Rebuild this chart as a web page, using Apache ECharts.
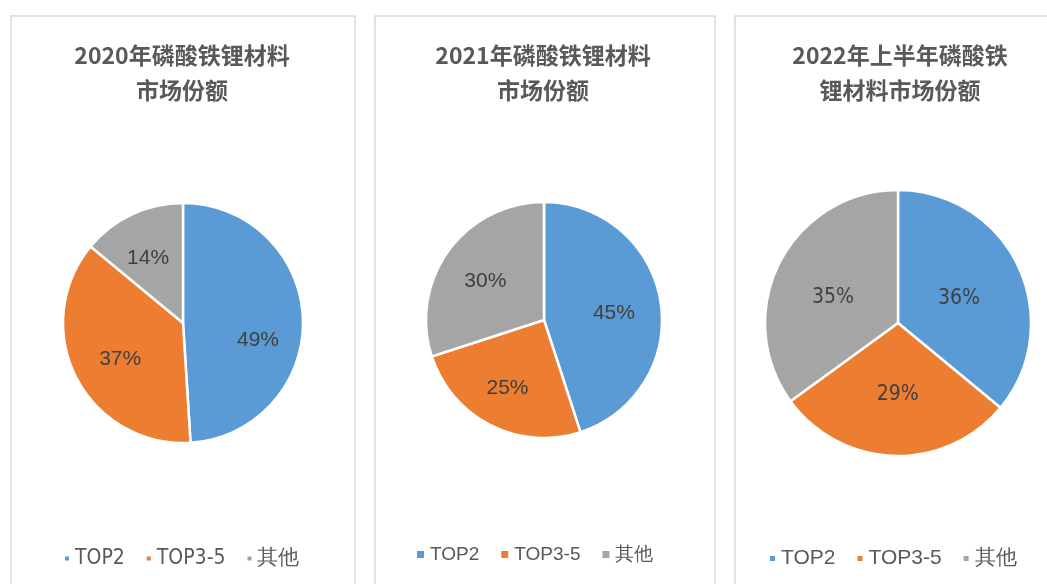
<!DOCTYPE html>
<html>
<head>
<meta charset="utf-8">
<script src="https://cdn.jsdelivr.net/npm/echarts@6/dist/echarts.min.js"></script>
<style>
  html, body { margin: 0; padding: 0; background: #fff; }
  #main { width: 1047px; height: 584px; }
</style>
</head>
<body>
<div id="main"></div>
<script>
// 数据
var categories = ['TOP2', 'TOP3-5', '其他']
var titles = ['2020年磷酸铁锂材料\n市场份额', '2021年磷酸铁锂材料\n市场份额', '2022年上半年磷酸铁\n锂材料市场份额']
var share2020 = [49, 37, 14]
var share2021 = [45, 25, 30]
var share2022H1 = [36, 29, 35]
var colors = ['#5B9BD5', '#ED7D31', '#A5A5A5']

var narrow = "'DejaVu Sans Condensed', 'Liberation Sans', sans-serif"
var normal = "'Liberation Sans', sans-serif"

// 每个面板的布局
var panels = [
  { values: share2020, box: [11, 16, 344], center: [183, 323], r: 120, labelPos: 0.6, titleX: 182,
    labelOffsets: [[0, 20], [4, 2], [-3, 3]],
    legendLeft: 63, legendTop: 548, legendFont: 21, legendFamily: narrow, mark: 6, labelFamily: normal },
  { values: share2021, box: [375, 16, 340], center: [544, 320], r: 118, labelPos: 0.6, titleX: 543,
    labelOffsets: [[-3, 5], [-3, 2], [1, 5]],
    legendLeft: 415, legendTop: 545, legendFont: 19, legendFamily: normal, mark: 9, labelFamily: normal },
  { values: share2022H1, box: [735, 16, 400], center: [898, 323], r: 133, labelPos: 0.5, titleX: 900,
    labelOffsets: [[-2, 5], [2, 2], [-3, 6]],
    legendLeft: 768, legendTop: 548, legendFont: 21, legendFamily: normal, mark: 7, labelFamily: narrow }
]

var option = {
  animation: false,
  title: [],
  legend: [],
  series: [],
  graphic: []
}

panels.forEach(function (p, i) {
  option.graphic.push({
    type: 'rect',
    shape: { x: p.box[0], y: p.box[1], width: p.box[2], height: 700 },
    style: { fill: 'none', stroke: '#D9D9D9', lineWidth: 1.5 },
    silent: true,
    z: -1
  })
  option.title.push({
    text: titles[i],
    left: p.titleX,
    top: 38,
    textAlign: 'center',
    padding: 0,
    textStyle: {
      fontFamily: 'Noto Sans CJK SC',
      fontWeight: 'bold',
      fontSize: 23,
      lineHeight: 35,
      color: '#595959'
    }
  })
  option.legend.push({
    data: categories,
    left: p.legendLeft,
    top: p.legendTop,
    padding: 0,
    itemWidth: p.mark,
    itemHeight: p.mark,
    itemGap: 20,
    icon: 'rect',
    textStyle: { fontSize: p.legendFont, fontFamily: p.legendFamily, color: '#595959' }
  })
  var data = p.values.map(function (v, k) {
    return { name: categories[k], value: v, itemStyle: { color: colors[k] } }
  })
  // 饼图本体
  option.series.push({
    type: 'pie',
    center: p.center,
    radius: p.r,
    startAngle: 90,
    clockwise: true,
    label: { show: false },
    labelLine: { show: false },
    itemStyle: { borderColor: '#fff', borderWidth: 2.5 },
    emphasis: { disabled: true },
    data: data
  })
  // 标签用的透明饼图
  option.series.push({
    type: 'pie',
    center: p.center,
    radius: p.r * p.labelPos * 2,
    startAngle: 90,
    clockwise: true,
    silent: true,
    emphasis: { disabled: true },
    itemStyle: { color: 'rgba(0,0,0,0)' },
    label: {
      show: true,
      position: 'inside',
      formatter: '{c}%',
      fontSize: 21,
      fontFamily: p.labelFamily,
      color: '#404040'
    },
    labelLine: { show: false },
    data: p.values.map(function (v, k) {
      return {
        name: categories[k],
        value: v,
        itemStyle: { color: 'rgba(0,0,0,0)' },
        label: { offset: p.labelOffsets[k] }
      }
    }),
    z: 3
  })
})

var chart = echarts.init(document.getElementById('main'))
chart.setOption(option)
</script>
</body>
</html>
